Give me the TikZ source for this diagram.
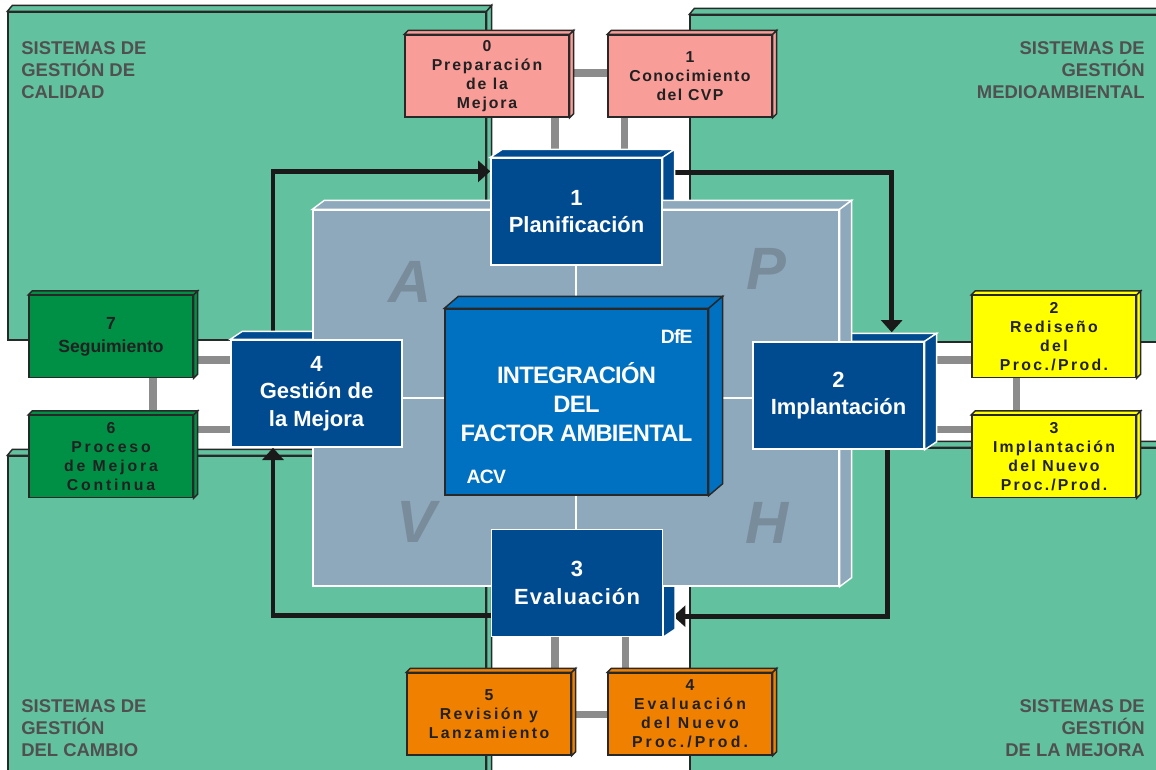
\documentclass[tikz,border=0pt]{standalone}
\usepackage{fontspec}
\setmainfont{Liberation Sans}
\usetikzlibrary{arrows.meta, positioning, calc}

\definecolor{sysgreen}{RGB}{98,194,160}
\definecolor{plategray}{RGB}{143,169,188}
\definecolor{stepblue}{RGB}{0,74,143}
\definecolor{coreblue}{RGB}{0,112,192}
\definecolor{pinkbox}{RGB}{248,157,152}
\definecolor{yellowbox}{RGB}{255,255,0}
\definecolor{greenbox}{RGB}{0,144,69}
\definecolor{orangebox}{RGB}{240,128,0}
\definecolor{linkgray}{RGB}{140,140,140}
\definecolor{labelgray}{RGB}{80,80,80}
\definecolor{lettergray}{RGB}{121,140,156}
\definecolor{arrowblack}{RGB}{26,26,26}
\definecolor{edgedark}{RGB}{40,40,40}

\pgfdeclarelayer{bg}
\pgfdeclarelayer{links}
\pgfdeclarelayer{sides}
\pgfdeclarelayer{plate}
\pgfsetlayers{bg,links,sides,plate,main}

% top and right faces of a box node
\newcommand{\boxdepth}[4]{%
  \filldraw[#4] (#1.north west) -- ++(#2,#3) -- ($(#1.north east)+(#2,#3)$) -- (#1.north east) -- cycle;
  \filldraw[#4] (#1.north east) -- ++(#2,#3) -- ($(#1.south east)+(#2,#3)$) -- (#1.south east) -- cycle;
}

\begin{document}
\begin{tikzpicture}[
      x=0.02cm, y=-0.02cm,
      system/.style={draw=edgedark, fill=sysgreen, line width=0.8pt, inner sep=0pt},
      corner/.style={text=labelgray, inner sep=0pt,
                     font=\fontsize{10.5}{12.5}\selectfont\bfseries},
      plate/.style={draw=white, fill=plategray, line width=0.8pt,
                    minimum width=10.52cm, minimum height=7.52cm, inner sep=0pt},
      quad/.style={text=lettergray, inner sep=0pt,
                   font=\fontsize{34}{34}\selectfont\bfseries\itshape},
      stepbox/.style={draw=white, fill=stepblue, line width=0.8pt, text=white,
                      align=center, minimum width=3.42cm, minimum height=2.14cm,
                      inner sep=0pt, font=\fontsize{12.5}{15.5}\selectfont\bfseries},
      core/.style={draw=edgedark, fill=coreblue, line width=0.8pt, text=white,
                   align=center, minimum width=5.26cm, minimum height=3.72cm,
                   inner sep=0pt, font=\fontsize{13.5}{16.4}\selectfont\bfseries\addfontfeature{LetterSpace=-3}},
      tag/.style={text=white, inner sep=0pt,
                  font=\fontsize{11}{13}\selectfont\bfseries\addfontfeature{LetterSpace=-4}},
      spaced/.style={font=\fontsize{9}{10.8}\selectfont\bfseries\addfontfeature{LetterSpace=#1}},
      spaced/.default=14,
      task/.style={draw=edgedark, line width=0.8pt, text=black!87, align=center,
                   minimum width=3.28cm, minimum height=1.64cm, inner sep=0pt, spaced},
      link/.style={linkgray, line width=4pt},
      arr/.style={-{Triangle[length=7pt,width=12pt]}, arrowblack, line width=2.8pt}
    ]
    \useasboundingbox (0,0) rectangle (1156,769);

    \begin{pgfonlayer}{bg}
      \node[system, minimum width=9.56cm, minimum height=6.56cm] (qual) at (247,176) {};
      \boxdepth{qual}{5}{-6}{draw=edgedark, fill=sysgreen, line width=0.8pt}
      \node[system, minimum width=9.6cm, minimum height=6.54cm] (env) at (930,178.5) {};
      \boxdepth{env}{5}{-6}{draw=edgedark, fill=sysgreen, line width=0.8pt}
      \node[system, minimum width=9.56cm, minimum height=6.68cm] (chg) at (247,623) {};
      \boxdepth{chg}{5}{-6}{draw=edgedark, fill=sysgreen, line width=0.8pt}
      \node[system, minimum width=9.6cm, minimum height=6.84cm] (imp) at (930,619) {};
      \boxdepth{imp}{5}{-6}{draw=edgedark, fill=sysgreen, line width=0.8pt}

      \node[corner, anchor=north west, align=left] (lqual) at (21,41) {SISTEMAS DE\\GESTIÓN DE\\CALIDAD};
      \node[corner, anchor=north east, align=right] (lenv) at (1145,41) {SISTEMAS DE\\GESTIÓN\\MEDIOAMBIENTAL};
      \node[corner, anchor=north west, align=left] (lchg) at (21,699) {SISTEMAS DE\\GESTIÓN\\DEL CAMBIO};
      \node[corner, anchor=north east, align=right] (limp) at (1145,699) {SISTEMAS DE\\GESTIÓN\\DE LA MEJORA};
    \end{pgfonlayer}

    \node[stepbox] (plan) at (576.5,211.5) {1\\Planificación};
    \node[stepbox] (impl) at (838.5,395.5) {2\\Implantación};
    \node[stepbox] (eval) at (577,583) {3\\\addfontfeature{LetterSpace=5}Evaluación};
    \node[stepbox] (gest) at (316.5,393.5) {4\\Gestión de\\la Mejora};

    \begin{pgfonlayer}{sides}
      \foreach \n in {plan,impl,eval,gest}
        {\boxdepth{\n}{12}{-8}{draw=white, fill=stepblue, line width=0.8pt}}
    \end{pgfonlayer}

    \begin{pgfonlayer}{plate}
      \node[plate] (plate) at (576,398) {};
      \boxdepth{plate}{12}{-9}{draw=white, fill=plategray, line width=0.8pt}
      \draw[white, line width=0.8pt] (plate.north) -- (plate.south);
      \draw[white, line width=0.8pt] (plate.west) -- (plate.east);
      \node[quad] (qa) at (410,282) {A};
      \node[quad] (qp) at (766,269) {P};
      \node[quad] (qv) at (416,522) {V};
      \node[quad] (qh) at (767,523) {H};
    \end{pgfonlayer}

    \node[core] (core) at (576.5,402) {INTEGRACIÓN\\DEL\\FACTOR AMBIENTAL};
    \boxdepth{core}{14}{-12}{draw=edgedark, fill=coreblue, line width=0.8pt}
    \node[tag] (dfe) at ($(core.north east)+(-32,28)$) {DfE};
    \node[tag] (acv) at ($(core.south west)+(42,-19)$) {ACV};

    \node[task, fill=pinkbox, spaced=12] (prep) at (487,76) {0\\Preparación\\de la\\Mejora};
    \node[task, fill=pinkbox, spaced=9] (cvp) at (690,76) {1\\Conocimiento\\del CVP};
    \node[task, fill=yellowbox, spaced=15] (redis) at (1054,336.5) {2\\Rediseño\\del\\Proc./Prod.};
    \node[task, fill=yellowbox] (newimp) at (1054,456.5) {3\\Implantación\\del Nuevo\\Proc./Prod.};
    \node[task, fill=greenbox, font=\fontsize{10}{13}\selectfont\bfseries] (segu) at (111,336.5) {7\\Seguimiento};
    \node[task, fill=greenbox, spaced=18] (pmc) at (111,456.5) {6\\Proceso\\de Mejora\\Continua};
    \node[task, fill=orangebox, spaced=15] (relaunch) at (489,714) {5\\Revisión y\\Lanzamiento};
    \node[task, fill=orangebox, spaced=20] (neweval) at (690,714) {4\\Evaluación\\del Nuevo\\Proc./Prod.};

    \foreach \n/\c in {prep/pinkbox,cvp/pinkbox,redis/yellowbox,newimp/yellowbox,
                       segu/greenbox,pmc/greenbox,relaunch/orangebox,neweval/orangebox}
      {\boxdepth{\n}{4}{-4}{draw=edgedark, fill=\c, line width=0.8pt}}

    \begin{pgfonlayer}{links}
      \draw[link] ([yshift=0.06cm]prep.east) -- ([yshift=0.06cm]cvp.west);
      \draw[link] ([xshift=1.36cm]prep.south) -- ([xshift=1.36cm]prep.south |- plan.north);
      \draw[link] ([xshift=-1.32cm]cvp.south) -- ([xshift=-1.32cm]cvp.south |- plan.north);
      \draw[link] ([yshift=-0.47cm]redis.west -| impl.east) -- ([yshift=-0.47cm]redis.west);
      \draw[link] ([yshift=0.55cm]newimp.west -| impl.east) -- ([yshift=0.55cm]newimp.west);
      \draw[link] ([xshift=-0.76cm]redis.south) -- ([xshift=-0.76cm]newimp.north);
      \draw[link] ([yshift=-0.47cm]segu.east) -- ([yshift=-0.47cm]segu.east -| gest.west);
      \draw[link] ([yshift=0.55cm]pmc.east) -- ([yshift=0.55cm]pmc.east -| gest.west);
      \draw[link] ([xshift=0.84cm]segu.south) -- ([xshift=0.84cm]pmc.north);
      \draw[link] ([xshift=1.32cm]relaunch.north) -- ([xshift=1.32cm]relaunch.north |- eval.south);
      \draw[link] ([xshift=-1.3cm]neweval.north) -- ([xshift=-1.3cm]neweval.north |- eval.south);
      \draw[link] (relaunch) -- (neweval);

      \draw[arr] ([xshift=-0.87cm]gest.north) |- ([yshift=-0.28cm]plan.north west);
      \draw[arr] ([yshift=-0.3cm]plan.north east) -| ([xshift=-0.66cm,yshift=0.18cm]impl.north east);
      \draw[arr] ([xshift=-0.74cm]impl.south east) |- ([xshift=0.2cm,yshift=0.42cm]eval.south east);
      \draw[arr] ([yshift=0.44cm]eval.south west) -| ([xshift=-0.87cm]gest.south);
    \end{pgfonlayer}
  \end{tikzpicture}
\end{document}
